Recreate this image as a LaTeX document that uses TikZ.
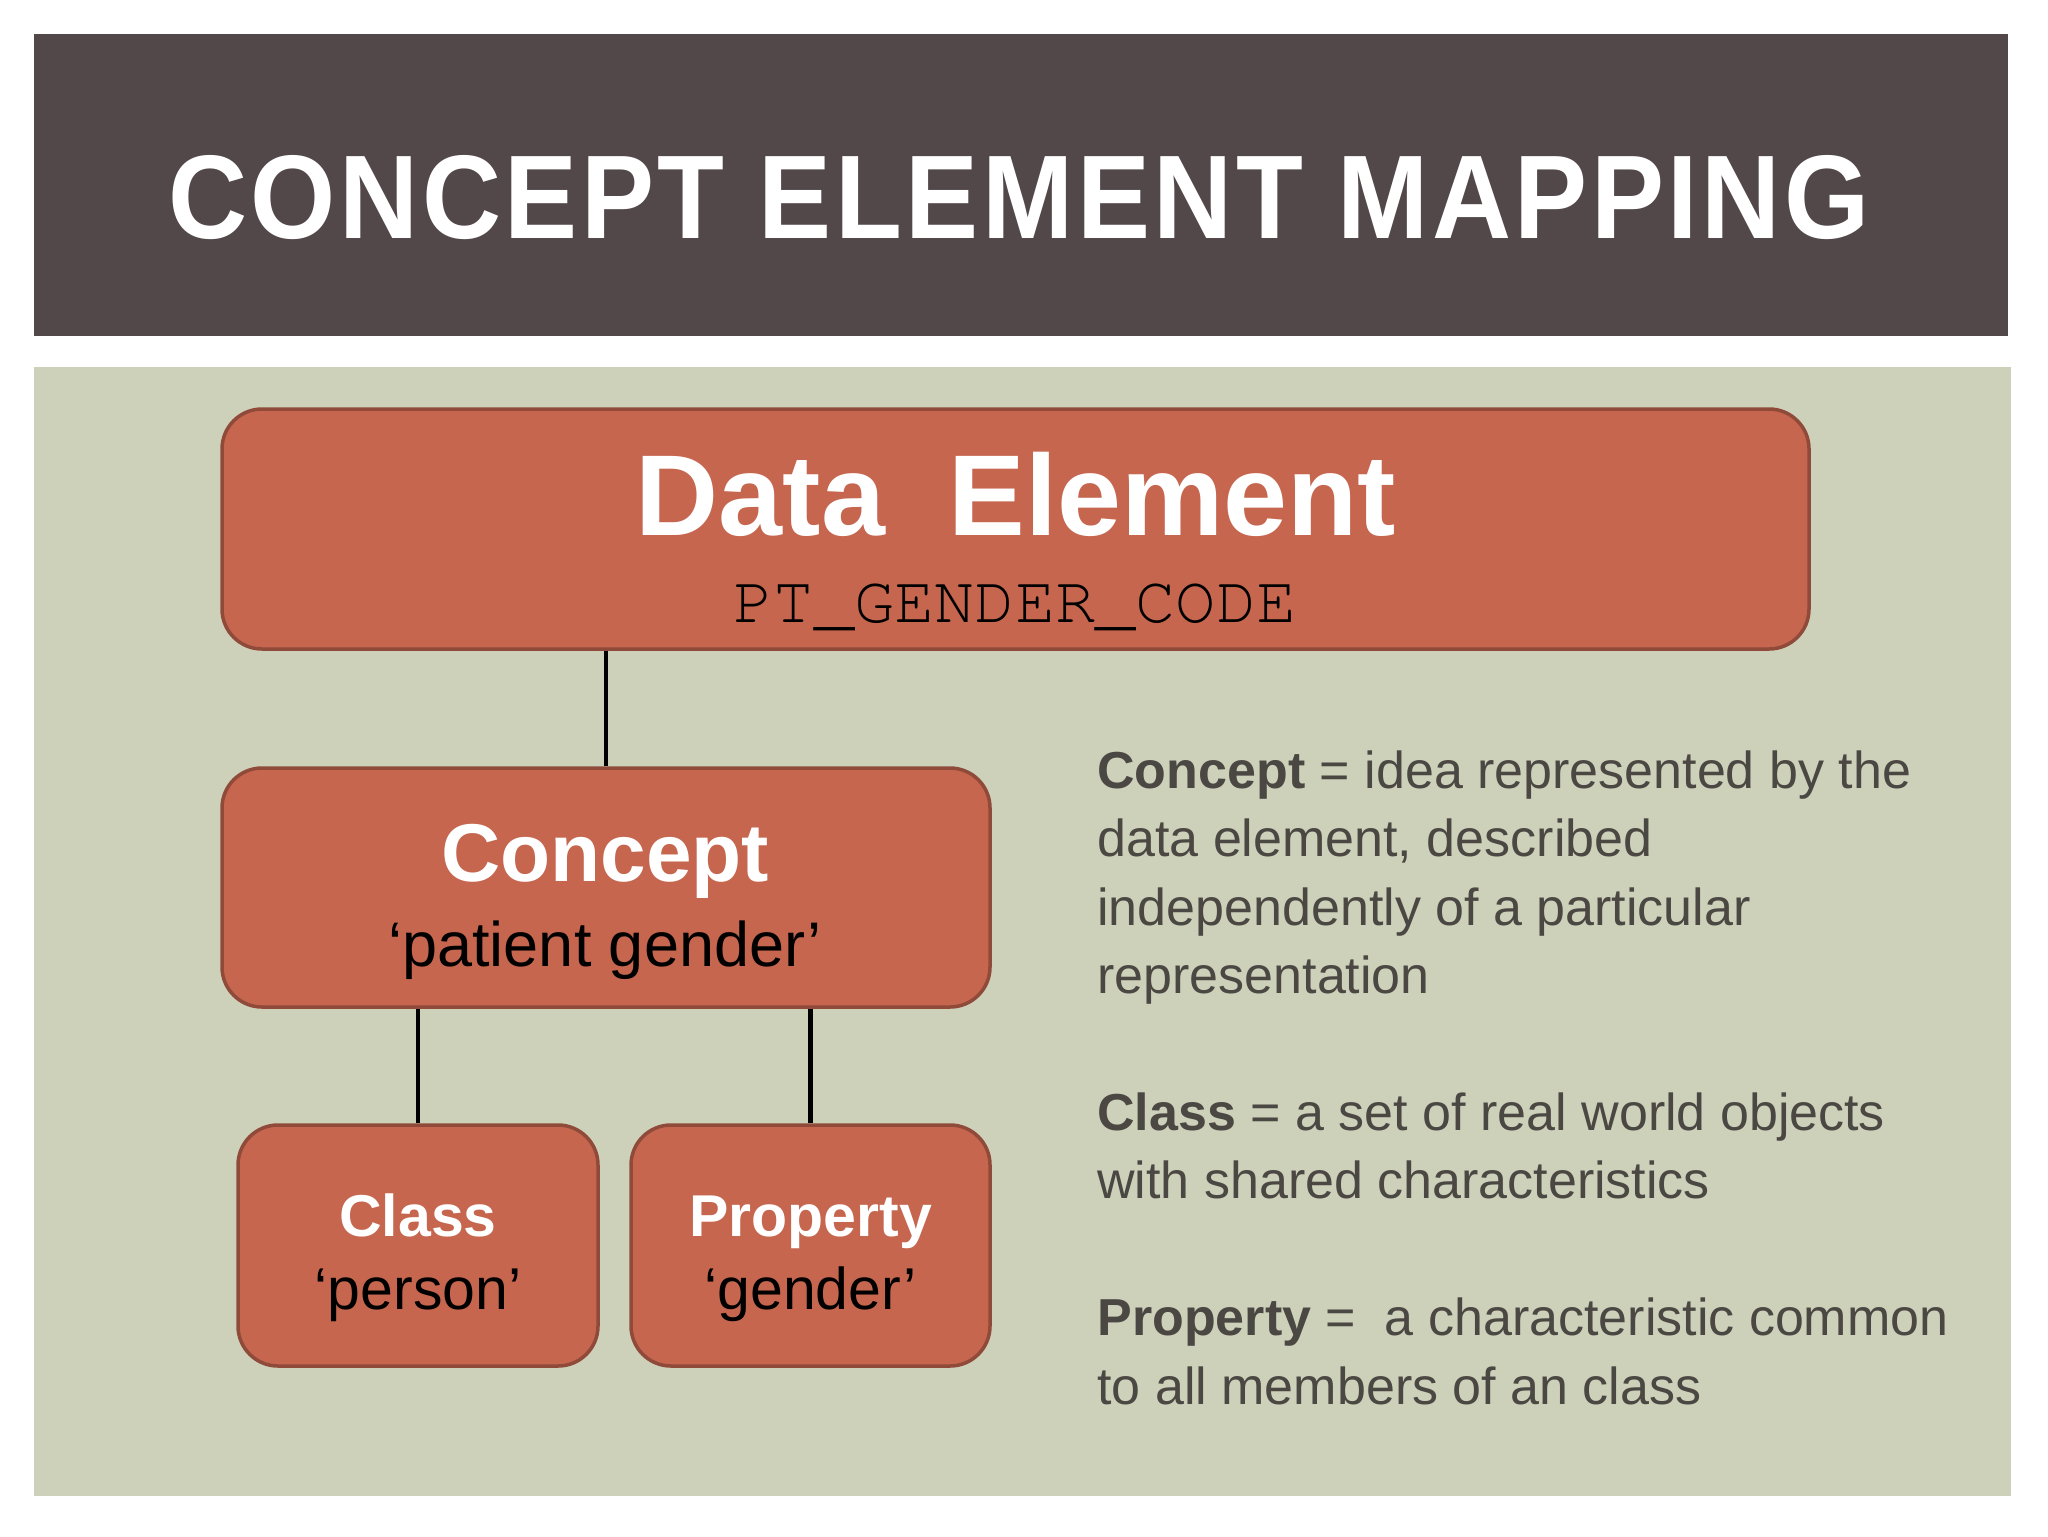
\documentclass[tikz,border=0pt]{standalone}
\usepackage{fontspec}
\setmainfont{Liberation Sans}
\setmonofont{Liberation Mono}
\newfontfamily\titlefont{Liberation Sans}[FakeStretch=0.92,LetterSpace=3]
\newfontfamily\codefont{texgyrecursor-regular.otf}
\definecolor{barbrown}{HTML}{524849}
\definecolor{panelgreen}{HTML}{CDD1BA}
\definecolor{boxred}{HTML}{C6664F}
\definecolor{boxedge}{HTML}{8F4A3A}
\definecolor{notegray}{HTML}{4B4742}
\tikzset{
  box/.style={draw=boxedge, line width=1.75pt, fill=boxred, rounded corners=20pt, inner sep=0pt},
  link/.style={line width=2.2pt, black},
  headtext/.style={anchor=base, text=white, font=\bfseries\fontsize{#1}{#1}\selectfont},
  subtext/.style={anchor=base, text=black, font=\fontsize{#1}{#1}\selectfont}
}

\begin{document}
\begin{tikzpicture}[x=0.5pt, y=-0.5pt]
	%%%%% BACKGROUND %%%%%
	\useasboundingbox (0,0) rectangle (2048,1536);
	\fill[white] (0,0) rectangle (2048,1536);
	\fill[barbrown] (34,34) rectangle (2008,336);
	\fill[panelgreen] (34,367) rectangle (2011,1496);
	
	\node[anchor=base, text=white, font=\titlefont\bfseries\fontsize{59.5}{60}\selectfont] (title) at (1019,238) {CONCEPT ELEMENT MAPPING};
	
	%%%%% BOXES %%%%%
	\node[box, minimum width=793.5pt, minimum height=120pt] (de) at (1015.5,529) {};
	\node[headtext=57.5] (detitle) at (1016,535) {Data\ \ Element};
	\node[anchor=base, font=\codefont\fontsize{33.5}{36}\selectfont] (decode) at (1015,622) {PT\_GENDER\_CODE};
	
	\node[box, minimum width=384pt, minimum height=119.5pt] (concept) at (606,887.5) {};
	\node[headtext=41] (concepttitle) at (605,881) {Concept};
	\node[subtext=31.5] (conceptname) at (605,966) {‘patient gender’};
	
	\node[box, minimum width=180pt, minimum height=120.5pt] (class) at (418,1245.5) {};
	\node[headtext=29.5] (classtitle) at (418,1236) {Class};
	\node[subtext=29.5] (classname) at (418,1309) {‘person’};
	
	\node[box, minimum width=179.5pt, minimum height=120.5pt] (property) at (810.5,1245.5) {};
	\node[headtext=29.5] (propertytitle) at (810.5,1236) {Property};
	\node[subtext=29.5] (propertyname) at (810.5,1309) {‘gender’};
	
	%%%%% LINKS %%%%%
	\draw[link] (de.south -| concept.north) -- (concept.north);
	\draw[link] (concept.south -| class.north) -- (class.north);
	\draw[link] (concept.south -| property.north) -- (property.north);
	
	%%%%% NOTES %%%%%
	% base of a multi-line node = baseline of its last line
	\node[anchor=base west, align=left, inner sep=0pt, text=notegray, font=\fontsize{26}{34.2}\selectfont] (notes) at (1097,1404) {%
		\textbf{Concept} = idea represented by the\\
		data element, described\\
		independently of a particular\\
		representation\\[34.2pt]
		\textbf{Class} = a set of real world objects\\
		with shared characteristics\\[34.2pt]
		\textbf{Property} =\ \ a characteristic common\\
		to all members of an class};
\end{tikzpicture}
\end{document}
